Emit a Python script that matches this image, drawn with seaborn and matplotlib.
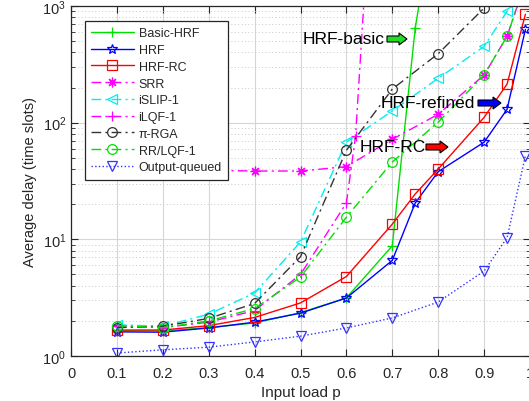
import numpy as np
import pandas as pd
import matplotlib
matplotlib.use("Agg")
import matplotlib.pyplot as plt
import seaborn as sns
from matplotlib.patches import FancyArrow
from matplotlib.transforms import IdentityTransform

# ---- data ----
basic_hrf_x = [0.1, 0.2, 0.3, 0.4, 0.5, 0.6, 0.7, 0.75, 0.8]
basic_hrf_y = [1.65, 1.64, 1.75, 1.92, 2.35, 3.15, 8.8, 650, 10000]

hrf_x = [0.1, 0.2, 0.3, 0.4, 0.5, 0.6, 0.7, 0.75, 0.8, 0.9, 0.95, 0.99]
hrf_y = [1.61, 1.60, 1.74, 1.95, 2.33, 3.14, 6.6, 20.5, 38, 68, 130, 630]

hrf_rc_x = [0.1, 0.2, 0.3, 0.4, 0.5, 0.6, 0.7, 0.75, 0.8, 0.9, 0.95, 0.99]
hrf_rc_y = [1.67, 1.67, 1.82, 2.14, 2.85, 4.8, 13.5, 24.5, 40, 111, 214, 850]

srr_x = [0.1, 0.2, 0.3, 0.4, 0.5, 0.6, 0.7, 0.8, 0.9, 0.95, 0.99]
srr_y = [39, 39, 39, 38.5, 38.5, 42, 72, 118, 256, 550, 1600]

islip_x = [0.1, 0.2, 0.3, 0.4, 0.5, 0.6, 0.7, 0.8, 0.9, 0.95, 0.99]
islip_y = [1.85, 1.80, 2.28, 3.47, 9.5, 68, 126, 240, 450, 900, 2500]

ilqf_x = [0.1, 0.2, 0.3, 0.4, 0.5, 0.6, 0.62, 0.65]
ilqf_y = [1.80, 1.75, 1.95, 2.45, 5.0, 20.5, 77, 6000]

pirga_x = [0.1, 0.2, 0.3, 0.4, 0.5, 0.6, 0.7, 0.8, 0.9]
pirga_y = [1.75, 1.80, 2.10, 2.82, 7.1, 58, 194, 390, 960]

rrlqf_x = [0.1, 0.2, 0.3, 0.4, 0.5, 0.6, 0.7, 0.8, 0.9, 0.95, 0.99]
rrlqf_y = [1.82, 1.75, 2.00, 2.55, 4.75, 15.5, 46, 101, 256, 550, 1600]

oq_x = [0.1, 0.2, 0.3, 0.4, 0.5, 0.6, 0.7, 0.8, 0.9, 0.95, 0.99]
oq_y = [1.06, 1.13, 1.19, 1.32, 1.48, 1.74, 2.12, 2.9, 5.35, 10.3, 52]

x_ticks = [0, 0.1, 0.2, 0.3, 0.4, 0.5, 0.6, 0.7, 0.8, 0.9, 1]
x_tick_labels = ["0", "0.1", "0.2", "0.3", "0.4", "0.5", "0.6", "0.7", "0.8", "0.9", "1"]

# ---- style ----
sns.set_style("ticks")
plt.rcParams["font.family"] = ["Liberation Sans", "DejaVu Sans"]
plt.rcParams["mathtext.fontset"] = "custom"
plt.rcParams["mathtext.rm"] = "Liberation Sans"
plt.rcParams["mathtext.it"] = "Liberation Sans:italic"

W, H = 529, 402
fig = plt.figure(figsize=(W / 100, H / 100), dpi=100)
ax = fig.add_axes([71 / W, (H - 357) / H, 459 / W, 350 / H])

dashdot = (0, (7, 3, 1.5, 3))
series = [
    ("Basic-HRF", basic_hrf_x, basic_hrf_y, "#00e000", "-", "+"),
    ("HRF", hrf_x, hrf_y, "#0000ff", "-", "*"),
    ("HRF-RC", hrf_rc_x, hrf_rc_y, "#ff0000", "-", "s"),
    ("SRR", srr_x, srr_y, "#ff00ff", dashdot, (8, 2, 0)),
    ("iSLIP-1", islip_x, islip_y, "#00eeee", dashdot, "<"),
    ("iLQF-1", ilqf_x, ilqf_y, "#ff00ff", dashdot, "+"),
    ("\u03c0-RGA", pirga_x, pirga_y, "#333333", dashdot, "o"),
    ("RR/LQF-1", rrlqf_x, rrlqf_y, "#00e000", dashdot, "o"),
    ("Output-queued", oq_x, oq_y, "#3333ff", ":", "v"),
]

for name, xs, ys, col, ls, mk in series:
    df = pd.DataFrame({"load": xs, "delay": ys})
    sns.lineplot(data=df, x="load", y="delay", ax=ax, color=col, linestyle=ls,
                 marker=mk, markersize=7, markerfacecolor="none",
                 markeredgecolor=col, markeredgewidth=0.9, linewidth=1.0,
                 label=name, sort=False, estimator=None)

ax.set_yscale("log")
ax.set_xlim(0, 1)
ax.set_ylim(1, 1000)
ax.set_xticks(x_ticks)
ax.set_xticklabels(x_tick_labels)

ax.grid(True, which="major", axis="both", color="#d6d6d6", linestyle="-", linewidth=0.8)
ax.grid(True, which="minor", axis="y", color="#c8c8c8", linestyle=(0, (1, 2.5)), linewidth=0.7)
ax.set_axisbelow(True)

for s in ax.spines.values():
    s.set_color("#262626")
    s.set_linewidth(0.9)
ax.tick_params(which="both", direction="in", top=True, right=True,
               colors="#262626", labelsize=10.5)
ax.tick_params(which="major", length=5)
ax.tick_params(which="minor", length=3)
ax.tick_params(axis="x", which="minor", bottom=False, top=False)
ax.tick_params(axis="x", pad=7)

ax.set_xlabel("Input load p", fontsize=11, color="#262626", labelpad=4)
ax.set_ylabel("Average delay (time slots)", fontsize=10.5, color="#262626", labelpad=4)

leg = ax.legend(loc="upper left", bbox_to_anchor=(0.03, 0.957), borderaxespad=0,
                fontsize=9, handlelength=3.4, handletextpad=0.4, labelspacing=0.38,
                borderpad=0.5, fancybox=False, framealpha=1, edgecolor="#262626")
leg.get_frame().set_linewidth(0.9)
leg.set_zorder(10)

# ---- annotations with block arrows (pixel coordinates, y from top) ----
def label_arrow(text, tx, ty, ax0, ax1, col):
    fig.text(tx / W, 1 - ty / H, text, fontsize=12.5, color="black",
             ha="left", va="center", zorder=20)
    arr = FancyArrow(ax0, H - ty, ax1 - ax0, 0, width=6, head_width=12,
                     head_length=8, length_includes_head=True,
                     transform=IdentityTransform(), facecolor=col,
                     edgecolor="black", linewidth=0.8, zorder=20)
    fig.add_artist(arr)

label_arrow("HRF-basic", 303, 40, 387, 407, "#22dd22")
label_arrow("HRF-refined", 381, 104, 478, 501, "#0000ff")
label_arrow("HRF-RC", 360, 148, 426, 448, "#ff0000")

fig.savefig("out.png", dpi=100)
